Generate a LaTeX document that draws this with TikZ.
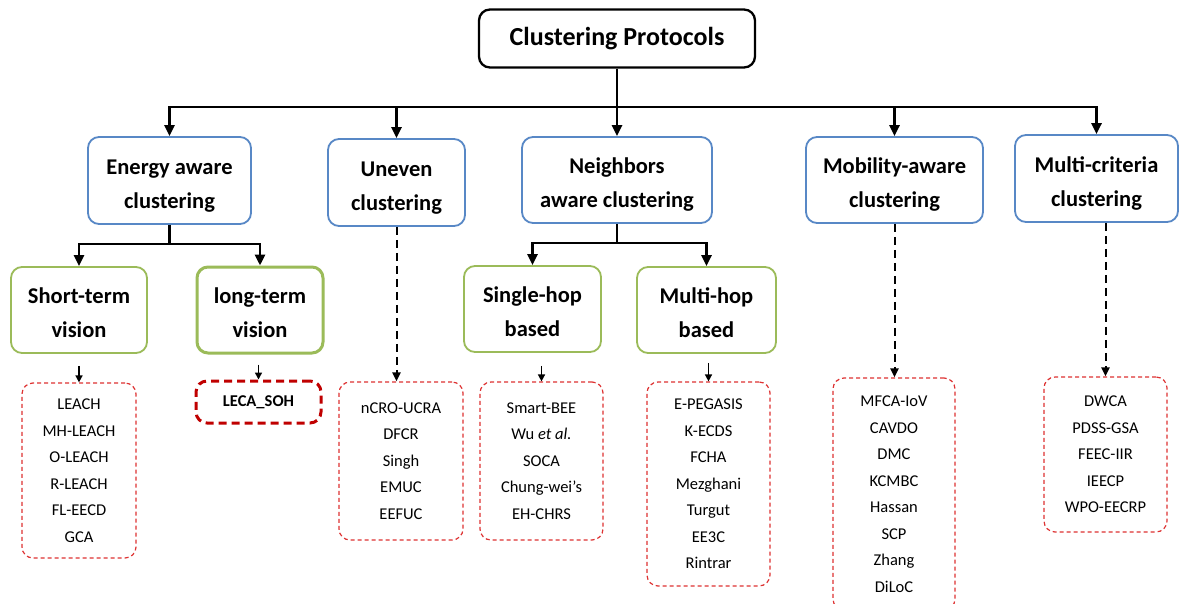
\documentclass[tikz,border=0pt]{standalone}
\usepackage{fontspec}
\setmainfont{Carlito}
\usetikzlibrary{arrows.meta}
\definecolor{bluebd}{RGB}{88,136,198}
\definecolor{greenbd}{RGB}{155,187,89}
\definecolor{redd}{RGB}{222,50,50}
\definecolor{redk}{RGB}{192,0,0}
\newcommand\twol[2]{\rule{0pt}{29pt}#1\\#2\rule[-8pt]{0pt}{8pt}}
\begin{document}
\begin{tikzpicture}[x=1pt,y=-1pt,
  box/.style={rounded corners=11pt, align=center, inner sep=0pt},
  lvl/.style={box, draw=bluebd, line width=1.8pt, font=\bfseries\fontsize{22.5}{34}\selectfont},
  sub/.style={box, draw=greenbd, line width=1.8pt, font=\bfseries\fontsize{22.5}{34}\selectfont},
  lst/.style={box, draw=redd, line width=1.2pt, dash pattern=on 4pt off 3pt, font=\fontsize{16.5}{26.5}\selectfont},
  conn/.style={line width=2.8pt, -{Triangle[length=11pt,width=10pt]}},
  small/.style={line width=1.5pt, -{Triangle[length=7pt,width=7pt]}},
  dsh/.style={line width=2pt, dash pattern=on 8pt off 5pt, -{Triangle[length=9pt,width=8pt]}}]
\clip (0,0) rectangle (1180,603);
\useasboundingbox (0,0) rectangle (1180,603);
\fill[white] (0,0) rectangle (1180,603);

% root
\node[box, draw=black, line width=2.3pt, minimum width=276pt, minimum height=58pt,
      font=\bfseries\fontsize{26}{30}\selectfont] (root) at (617,38.5) {Clustering Protocols};

% level 1
\node[lvl, minimum width=163pt, minimum height=87pt] (en) at (169.5,180.5) {\twol{Energy aware}{clustering}};
\node[lvl, minimum width=137pt, minimum height=87pt] (un) at (396.5,182.5) {\twol{Uneven}{clustering}};
\node[lvl, minimum width=190pt, minimum height=86pt] (nb) at (617,180) {\twol{Neighbors}{aware clustering}};
\node[lvl, minimum width=177pt, minimum height=86pt] (mo) at (894.5,180) {\twol{Mobility-aware}{clustering}};
\node[lvl, minimum width=163pt, minimum height=87pt] (mc) at (1096.5,178.5) {\twol{Multi-criteria}{clustering}};

% level 2
\node[sub, minimum width=136pt, minimum height=86pt] (st) at (79,310) {\twol{Short-term}{vision}};
\node[sub, line width=3pt, minimum width=126pt, minimum height=86pt] (lt) at (260,310) {\twol{long-term}{vision}};
\node[sub, minimum width=137pt, minimum height=86pt] (sh) at (532.5,309) {\twol{Single-hop}{based}};
\node[sub, minimum width=139pt, minimum height=86pt] (mh) at (706.5,310) {\twol{Multi-hop}{based}};

% lists
\node[lst, minimum width=114pt, minimum height=175pt] (stl) at (79,470.5)
  {LEACH\\MH-LEACH\\O-LEACH\\R-LEACH\\FL-EECD\\GCA};
\node[box, draw=redk, line width=3pt, dash pattern=on 8pt off 5pt, minimum width=125pt, minimum height=42pt,
      font=\bfseries\fontsize{16.5}{20}\selectfont] (ltl) at (258.5,402) {LECA\_SOH};
\node[lst, minimum width=124pt, minimum height=158pt] (unl) at (401,461)
  {nCRO-UCRA\\DFCR\\Singh\\EMUC\\EEFUC};
\node[lst, minimum width=123pt, minimum height=158pt] (shl) at (541.5,461)
  {Smart-BEE\\Wu \textit{et al.}\\SOCA\\Chung-wei’s\\EH-CHRS};
\node[lst, minimum width=123pt, minimum height=204pt] (mhl) at (708.5,484)
  {E-PEGASIS\\K-ECDS\\FCHA\\Mezghani\\Turgut\\EE3C\\Rintrar};
\node[lst, minimum width=122pt, minimum height=232pt] (mol) at (894,494)
  {MFCA-IoV\\CAVDO\\DMC\\KCMBC\\Hassan\\SCP\\Zhang\\DiLoC};
\node[lst, minimum width=123pt, minimum height=155pt] (mcl) at (1105.5,454.5)
  {DWCA\\PDSS-GSA\\FEEC-IIR\\IEECP\\WPO-EECRP};

% bus coordinates
\coordinate (bus) at (617,107);
\coordinate (ebus) at (169.5,244);
\coordinate (nbus) at (617,243);

% root connectors
\draw[conn] (root.south) -- (nb.north);
\draw[conn] (bus -| nb.north) -| (en.north);
\draw[conn] (bus -| nb.north) -| (mc.north);
\draw[conn] (bus -| un.north) -- (un.north);
\draw[conn] (bus -| mo.north) -- (mo.north);

% energy subtree
\draw[conn] (en.south) -- (en.south |- ebus) -| (st.north);
\draw[conn] (en.south |- ebus) -| (lt.north);

% neighbors subtree
\draw[conn] (nb.south) -- (nb.south |- nbus) -| (sh.north);
\draw[conn] (nb.south |- nbus) -| (mh.north);

% small arrows from green boxes
\coordinate (sto) at ([yshift=-12pt]st.south);
\coordinate (lto) at ([yshift=-10pt]lt.south);
\coordinate (sho) at ([yshift=-13pt]sh.south);
\coordinate (mho) at ([yshift=-9pt]mh.south);
\draw[small] (stl.north |- sto) -- (stl.north);
\draw[small] (ltl.north |- lto) -- (ltl.north);
\draw[small] (shl.north |- sho) -- (shl.north);
\draw[small] (mhl.north |- mho) -- (mhl.north);

% dashed connectors
\draw[dsh] (un.south) -- (un.south |- unl.north);
\draw[dsh] (mo.south) -- (mo.south |- mol.north);
\draw[dsh] (mcl.north |- mc.south) -- (mcl.north);
\end{tikzpicture}
\end{document}
